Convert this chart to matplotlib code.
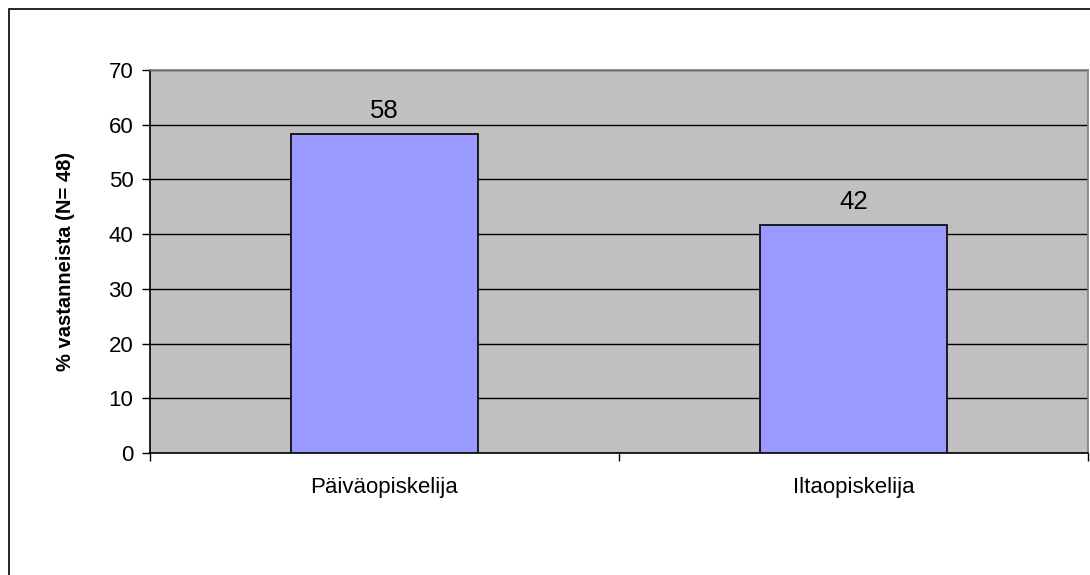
import matplotlib
matplotlib.use('agg')
import matplotlib.pyplot as plt
from matplotlib.patches import Rectangle

# data
categories = ['Päiväopiskelija', 'Iltaopiskelija']
percent = [58.33, 41.67]
labels = ['58', '42']

plt.rcParams['font.family'] = ['Liberation Sans', 'DejaVu Sans']

fig = plt.figure(figsize=(10.9, 5.75), dpi=100)
W, H = 1090, 575
ax = fig.add_axes([150 / W, 1 - 453 / H, 938 / W, 383 / H])

ax.set_facecolor('#C0C0C0')
ax.set_axisbelow(True)
ax.yaxis.grid(True, color='black', linewidth=1)

x = list(range(len(categories)))
ax.bar(x, percent, width=0.4, color='#9999FF', edgecolor='black', linewidth=1.2, zorder=3)

for xi, v, lab in zip(x, percent, labels):
    ax.text(xi, v + 4.2, lab, ha='center', va='center', fontsize=18.5)

ax.set_xlim(-0.5, 1.5)
ax.set_ylim(0, 70)
ax.set_yticks(range(0, 71, 10))
ax.tick_params(axis='y', direction='out', length=6, width=1, labelsize=16, pad=6)

ax.set_xticks(x)
ax.set_xticklabels(categories)
ax.tick_params(axis='x', which='major', length=0, labelsize=16, pad=17)
ax.set_xticks([-0.5, 0.5, 1.5], minor=True)
ax.tick_params(axis='x', which='minor', direction='out', length=6, width=1)

ax.set_ylabel('% vastanneista (N= 48)', fontsize=14.5, fontweight='bold', labelpad=24)

for s in ['left', 'bottom']:
    ax.spines[s].set_color('black')
    ax.spines[s].set_linewidth(1.2)
for s in ['top', 'right']:
    ax.spines[s].set_color('#808080')
    ax.spines[s].set_linewidth(1.2)

# outer chart border
border = Rectangle((9 / W, -0.2), 1.2, 1 - 9 / H + 0.2, transform=fig.transFigure,
                   fill=False, edgecolor='black', linewidth=1.2, clip_on=False)
fig.patches.append(border)

fig.savefig('out.png', dpi=100)
